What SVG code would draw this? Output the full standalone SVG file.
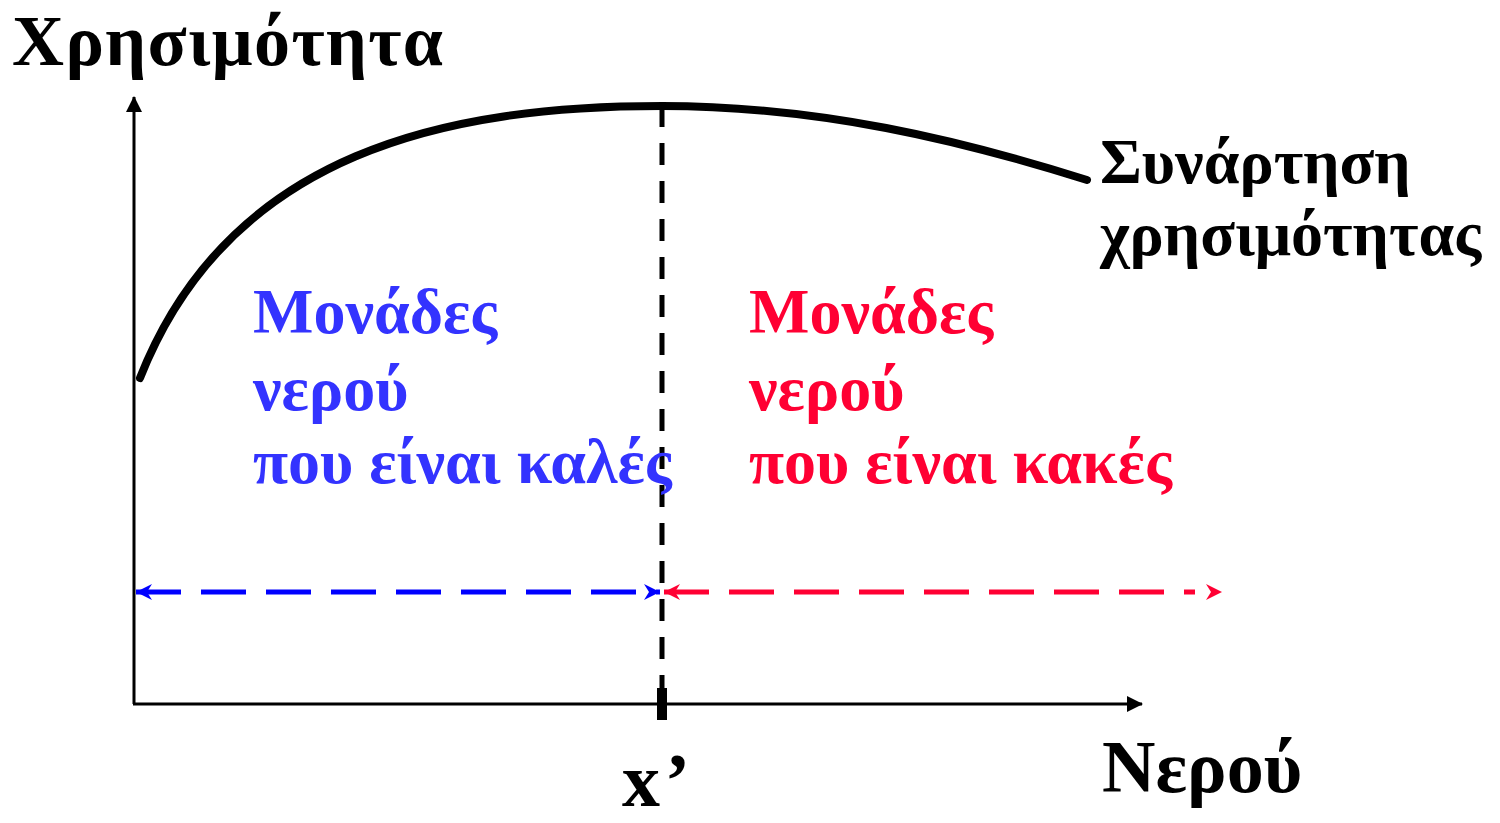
<svg xmlns="http://www.w3.org/2000/svg" width="1500" height="823" viewBox="0 0 1500 823">
<defs>
<style>
.t{font-family:"Liberation Serif","Times New Roman",serif;font-weight:bold;font-size:64px;fill:#000}
.big{font-size:74px}
.blue{fill:#3333FF}
.red{fill:#FF0033}
</style>
<marker id="ak" markerWidth="16" markerHeight="16" refX="15" refY="8" orient="auto" markerUnits="userSpaceOnUse">
<path d="M0,0 L16,8 L0,16 Z" fill="#000"/>
</marker>
<marker id="ab" markerWidth="18" markerHeight="18" refX="16" refY="9" orient="auto-start-reverse" markerUnits="userSpaceOnUse">
<path d="M0,1 L16,9 L0,17 L5,9 Z" fill="#0000FF"/>
</marker>
<marker id="ar" markerWidth="18" markerHeight="18" refX="16" refY="9" orient="auto-start-reverse" markerUnits="userSpaceOnUse">
<path d="M0,1 L16,9 L0,17 L5,9 Z" fill="#FF0033"/>
</marker>
</defs>
<rect width="1500" height="823" fill="#fff"/>
<g id="connectors">
<line x1="134" y1="704" x2="134" y2="97" stroke="#000" stroke-width="3" marker-end="url(#ak)"/>
<line x1="133" y1="704" x2="1142" y2="704" stroke="#000" stroke-width="3" marker-end="url(#ak)"/>
<line x1="662" y1="105" x2="662" y2="690" stroke="#000" stroke-width="5" stroke-dasharray="22 16"/>
<rect x="657" y="688" width="10" height="32" fill="#000"/>
<path d="M140,378 C230,150 450,106 662,106 C820,106 960,140 1087,180" fill="none" stroke="#000" stroke-width="8" stroke-linecap="round"/>
<line x1="136" y1="592" x2="660" y2="592" stroke="#0000FF" stroke-width="5" stroke-dasharray="45 20" marker-start="url(#ab)" marker-end="url(#ab)"/>
<line x1="664" y1="592" x2="1195" y2="592" stroke="#FF0033" stroke-width="5" stroke-dasharray="45 20" marker-start="url(#ar)"/>
<path d="M1206,584 L1222,592 L1206,600 L1211,592 Z" fill="#FF0033"/>
</g>
<g id="y-label"><text class="t" x="12" y="65" style="font-size:72px" textLength="431" lengthAdjust="spacing">Χρησιμότητα</text></g>
<g id="curve-label">
<text class="t" x="1100" y="183">Συνάρτηση</text>
<text class="t" x="1100" y="255">χρησιμότητας</text>
</g>
<g id="good-label">
<text class="t blue" x="253" y="333">Μονάδες</text>
<text class="t blue" x="253" y="410">νερού</text>
<text class="t blue" x="253" y="483">που είναι καλές</text>
</g>
<g id="bad-label">
<text class="t red" x="749" y="333">Μονάδες</text>
<text class="t red" x="749" y="410">νερού</text>
<text class="t red" x="749" y="483">που είναι κακές</text>
</g>
<g id="x-tick-label"><text class="t" x="622" y="806" style="font-size:76px" textLength="68" lengthAdjust="spacing">x’</text></g>
<g id="x-label"><text class="t big" x="1102" y="792">Νερού</text></g>
</svg>
